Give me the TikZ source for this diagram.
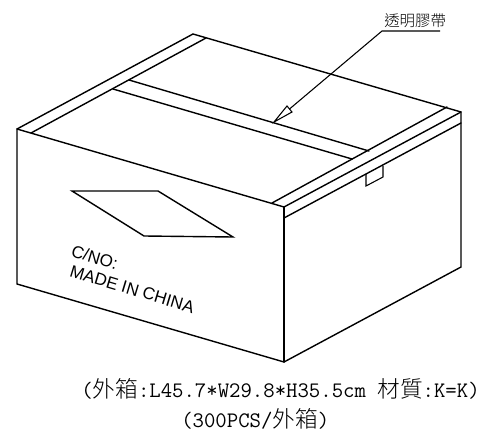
\documentclass[tikz,border=0pt]{standalone}
\usepackage{fontspec}
\setmainfont{Liberation Sans}
\newfontfamily\cjk{Noto Sans CJK TC Light}
\newfontfamily\monof{Latin Modern Mono}
\newcommand{\zh}[1]{{\cjk\fontsize{17}{20}\selectfont #1}}
\begin{document}
\begin{tikzpicture}[x=0.75pt,y=-0.75pt,
  box/.style={line width=1.05pt,line join=miter,line cap=round},
  lead/.style={line width=0.8pt,line join=miter},
  boxtext/.style={inner sep=0pt,anchor=base west,rotate=-16.8,font=\fontsize{12.8}{15}\selectfont},
  spec/.style={inner sep=0pt,anchor=base west,font=\monof\fontsize{16.6}{20}\selectfont}]
\useasboundingbox (0,0) rectangle (484,438);
% corners
\coordinate (A) at (17,129);
\coordinate (B) at (193,34);
\coordinate (C) at (461,112);
\coordinate (D) at (284,207);
\coordinate (A2) at (17,284);
\coordinate (D2) at (284,362);
\coordinate (C2) at (461,267);
\draw[box] (A) -- (B) -- (C) -- (C2) -- (D2) -- (A2) -- cycle;
\draw[box] (A) -- (D) -- (C);
\draw[box] (D) -- (D2);
% edge tape
\coordinate (T1) at (31,133);
\coordinate (T2) at (206,38);
\coordinate (T3) at (272,203);
\coordinate (T4) at (447,107);
\draw[box] (T1) -- (T2);
\draw[box] (T3) -- (T4);
\coordinate (T5) at (284,218);
\coordinate (T6) at (461,123);
\draw[box] (T5) -- (T6);
% middle tape
\coordinate (M1) at (129,80);
\coordinate (M2) at (369,151);
\coordinate (M3) at (113,89);
\coordinate (M4) at (352,159);
\draw[box] (M1) -- (M2);
\draw[box] (M3) -- (M4);
% tab
\coordinate (P1) at (366,174);
\coordinate (P2) at (366,186);
\coordinate (P3) at (383,177);
\coordinate (P4) at (383,166);
\draw[lead] (P1) -- (P2) -- (P3) -- (P4);
% label window
\coordinate (W1) at (72,191);
\coordinate (W2) at (158,191);
\coordinate (W3) at (233,237);
\coordinate (W4) at (144,236);
\draw[box] (W1) -- (W2) -- (W3) -- (W4) -- cycle;
% leader
\node[inner sep=0pt,anchor=base west] (tape) at (384,26.5) {{\cjk\fontsize{11.6}{14}\selectfont 透明膠帶}};
\coordinate (L1) at (440,31);
\coordinate (L2) at (382,31);
\coordinate (L3) at (289.5,109);
\coordinate (H1) at (287,106);
\coordinate (H2) at (292,112);
\coordinate (H3) at (274,122);
\draw[lead] (L1) -- (L2) -- (L3);
\draw[lead] (H1) -- (H2) -- (H3) -- cycle;
% box text
\node[boxtext] (cno) at (70,256) {C/NO:};
\node[boxtext] (made) at (68.5,276) {MADE IN CHINA};
% caption
\node[spec] (cap1) at (81,397) {(\zh{外箱}:L45.7*W29.8*H35.5cm \zh{材質}:K=K)};
\node[spec] (cap2) at (181,427) {(300PCS/\zh{外箱})};
\end{tikzpicture}
\end{document}
